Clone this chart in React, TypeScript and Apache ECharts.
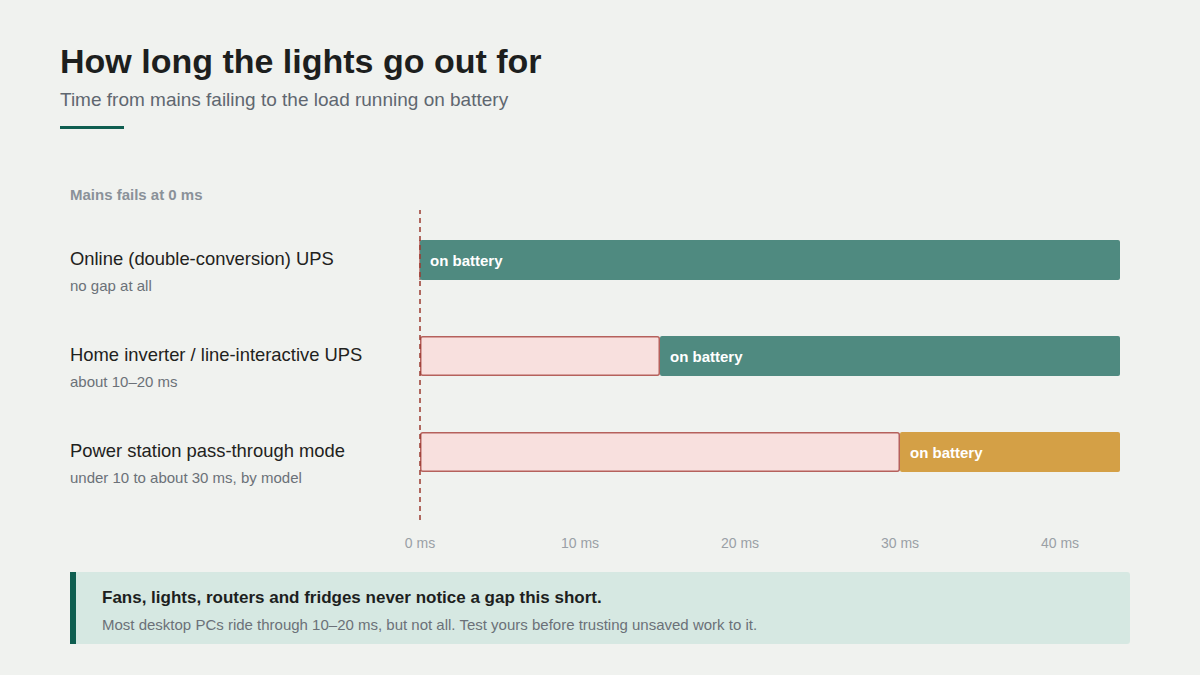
import { useRef, useEffect } from 'react'
import * as echarts from 'echarts'

const CATEGORIES = [
  'Online (double-conversion) UPS',
  'Home inverter / line-interactive UPS',
  'Power station pass-through mode',
]
const CATEGORY_NOTES = ['no gap at all', 'about 10–20 ms', 'under 10 to about 30 ms, by model']
const GAP_MS = [0, 15, 30]
const AXIS_MAX = 43.75
const BATTERY_MS = GAP_MS.map((g) => AXIS_MAX - g)
const BATTERY_COLORS = ['#4f8a80', '#4f8a80', '#d4a046']
const X_TICKS = [0, 10, 20, 30, 40]

const FONT = '"Liberation Sans", Arial, Helvetica, sans-serif'

function buildOption(): echarts.EChartsOption {
  return {
    backgroundColor: '#f0f2ef',
    animation: false,
    textStyle: { fontFamily: FONT },
    title: {
      text: 'How long the lights go out for',
      subtext: 'Time from mains failing to the load running on battery',
      left: 60,
      top: 44,
      padding: 0,
      itemGap: 12,
      textStyle: { fontSize: 34, fontWeight: 'bold', color: '#1d1f1e', fontFamily: FONT },
      subtextStyle: { fontSize: 19, color: '#5f6770', fontFamily: FONT },
    },
    grid: [
      { left: 420, right: 80, top: 212, bottom: 175 },
      { left: 420, right: 80, top: 210, bottom: 155 },
    ],
    xAxis: [
      {
        type: 'value',
        gridIndex: 0,
        min: 0,
        max: AXIS_MAX,
        show: false,
      },
      {
        type: 'value',
        gridIndex: 1,
        min: 0,
        max: AXIS_MAX,
        interval: 10,
        axisLine: { show: false },
        axisTick: { show: false },
        splitLine: { show: false },
        axisLabel: {
          margin: 16,
          fontSize: 14,
          color: '#9aa0a6',
          showMaxLabel: false,
          formatter: (v: number) => (X_TICKS.includes(v) ? `${v} ms` : ''),
        },
      },
    ],
    yAxis: [
      {
        type: 'category',
        gridIndex: 0,
        inverse: true,
        data: CATEGORIES,
        axisLine: { show: false },
        axisTick: { show: false },
        axisLabel: {
          margin: 350,
          align: 'left',
          padding: [28, 0, 0, 0],
          formatter: (v: string) => {
            const i = CATEGORIES.indexOf(v)
            return `{name|${v}}\n{note|${CATEGORY_NOTES[i]}}`
          },
          rich: {
            name: { fontSize: 18.4, color: '#1f2220', lineHeight: 22, fontFamily: FONT, fontWeight: 500 },
            note: { fontSize: 15, color: '#6b7178', lineHeight: 32, fontFamily: FONT },
          },
        },
      },
      {
        type: 'value',
        gridIndex: 1,
        show: false,
        min: 0,
        max: 1,
      },
    ],
    series: [
      {
        name: 'gap',
        type: 'bar',
        stack: 'total',
        xAxisIndex: 0,
        yAxisIndex: 0,
        barWidth: 40,
        data: GAP_MS,
        itemStyle: {
          color: '#f8e0de',
          borderColor: '#b5615c',
          borderWidth: 1.5,
          borderRadius: 2,
        },
      },
      {
        name: 'battery',
        type: 'bar',
        stack: 'total',
        xAxisIndex: 0,
        yAxisIndex: 0,
        barWidth: 40,
        data: BATTERY_MS.map((v, i) => ({ value: v, itemStyle: { color: BATTERY_COLORS[i] } })),
        itemStyle: { borderRadius: 2 },
        label: {
          show: true,
          position: 'insideLeft',
          distance: 10,
          formatter: 'on battery',
          color: '#ffffff',
          fontSize: 15,
          fontWeight: 'bold',
          fontFamily: FONT,
        },
      },
      {
        name: 'mains',
        type: 'line',
        xAxisIndex: 1,
        yAxisIndex: 1,
        data: [],
        markLine: {
          silent: true,
          symbol: ['none', 'none'],
          label: { show: false },
          lineStyle: { color: '#9b3b30', type: [5, 4], width: 1.5 },
          data: [{ xAxis: 0 }],
        },
      },
    ],
    graphic: [
      { type: 'rect', left: 60, top: 126, shape: { width: 64, height: 3 }, style: { fill: '#0f5e50' } },
      {
        type: 'text',
        left: 70,
        top: 187,
        style: { text: 'Mains fails at 0 ms', font: `bold 15px ${FONT}`, fill: '#8a9199' },
      },
      {
        type: 'group',
        left: 70,
        top: 572,
        children: [
          { type: 'rect', shape: { x: 0, y: 0, width: 1060, height: 72, r: 3 }, style: { fill: '#d6e8e2' } },
          { type: 'rect', shape: { x: 0, y: 0, width: 6, height: 72 }, style: { fill: '#0f5e50' } },
          {
            type: 'text',
            x: 32,
            y: 17,
            style: {
              text: 'Fans, lights, routers and fridges never notice a gap this short.',
              font: `bold 17px ${FONT}`,
              fill: '#1d1f1e',
            },
          },
          {
            type: 'text',
            x: 32,
            y: 45,
            style: {
              text: 'Most desktop PCs ride through 10–20 ms, but not all. Test yours before trusting unsaved work to it.',
              font: `15px ${FONT}`,
              fill: '#6b7178',
            },
          },
        ],
      },
    ],
  }
}

export default function App() {
  const ref = useRef<HTMLDivElement>(null)

  useEffect(() => {
    const el = ref.current
    if (!el) return
    const chart = echarts.init(el, null, { renderer: 'svg' })
    chart.setOption(buildOption())
    return () => chart.dispose()
  }, [])

  return (
    <div style={{ position: 'absolute', left: 0, top: 0, width: 1200, height: 675, background: '#f0f2ef' }}>
      <div ref={ref} style={{ width: 1200, height: 675 }} />
    </div>
  )
}
